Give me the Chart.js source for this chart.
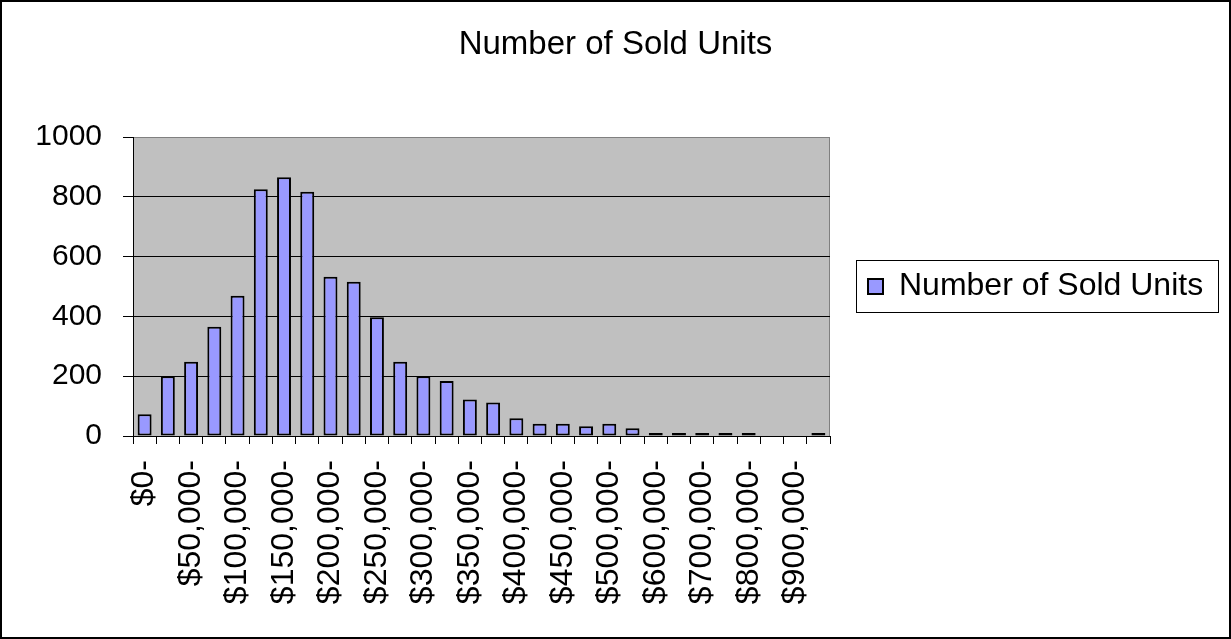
<!DOCTYPE html>
<html>
<head>
<meta charset="utf-8">
<script src="https://cdn.jsdelivr.net/npm/chart.js@4.4.1/dist/chart.umd.min.js"></script>
<style>
  html, body { margin: 0; padding: 0; background: #fff; }
  canvas { display: block; }
</style>
</head>
<body>
<canvas id="grafico" width="1231" height="639"></canvas>
<script>
const titulo = "Number of Sold Units";

const categorias = [
  "$0-", "$25,000-", "$50,000-", "$75,000-", "$100,000-", "$125,000-",
  "$150,000-", "$175,000-", "$200,000-", "$225,000-", "$250,000-", "$275,000-",
  "$300,000-", "$325,000-", "$350,000-", "$375,000-", "$400,000-", "$425,000-",
  "$450,000-", "$475,000-", "$500,000-", "$550,000-", "$600,000-", "$650,000-",
  "$700,000-", "$750,000-", "$800,000-", "$850,000-", "$900,000-", "$950,000-"
];

const unidades = [
  73, 200, 248, 365, 469, 825, 865, 817, 533, 516,
  397, 248, 200, 184, 122, 112, 59, 41, 41, 33,
  41, 26, 10, 10, 10, 10, 10, 0, 0, 10
];

const ticksY = [0, 200, 400, 600, 800, 1000];

const fuente = "'Liberation Sans', Arial, sans-serif";

// white page with the black outer frame, grey plot area
const fondo = {
  id: 'fondo',
  beforeDraw(chart) {
    const {ctx, chartArea: a, width, height} = chart;
    ctx.save();
    ctx.fillStyle = '#ffffff';
    ctx.fillRect(0, 0, width, height);
    ctx.strokeStyle = '#000000';
    ctx.lineWidth = 2;
    ctx.strokeRect(1, 1, width - 2, height - 2);
    ctx.fillStyle = '#c0c0c0';
    ctx.fillRect(a.left, a.top, a.right - a.left, a.bottom - a.top);
    ctx.strokeStyle = '#808080';
    ctx.lineWidth = 1;
    ctx.beginPath();
    ctx.moveTo(a.left, a.top + 0.5);
    ctx.lineTo(a.right - 0.5, a.top + 0.5);
    ctx.lineTo(a.right - 0.5, a.bottom);
    ctx.stroke();
    ctx.restore();
  }
};

// the legend sits in a fixed-width column right of the plot
const anchoLeyenda = {
  id: 'anchoLeyenda',
  beforeLayout(chart) {
    const lg = chart.legend;
    if (lg && !lg._anchoFijo) {
      const fitOriginal = lg.fit;
      lg.fit = function () {
        fitOriginal.call(this);
        this.width = 401;
      };
      lg._anchoFijo = true;
    }
  }
};

// box around the legend
const marcoLeyenda = {
  id: 'marcoLeyenda',
  afterDraw(chart) {
    const hb = chart.legend && chart.legend.legendHitBoxes && chart.legend.legendHitBoxes[0];
    if (!hb) return;
    const {ctx} = chart;
    ctx.save();
    ctx.strokeStyle = '#000000';
    ctx.lineWidth = 1;
    const x0 = Math.round(hb.left - 12) + 0.5;
    const x1 = Math.round(hb.left + hb.width + 15) + 0.5;
    const y0 = Math.round(hb.top - 11) + 0.5;
    const y1 = Math.round(hb.top + hb.height + 9) + 0.5;
    ctx.strokeRect(x0, y0, x1 - x0, y1 - y0);
    ctx.restore();
  }
};

const data = {
  labels: categorias,
  datasets: [
    {
      label: titulo,
      data: unidades,
      backgroundColor: '#9999ff',
      borderColor: '#000000',
      borderWidth: 2,
      borderSkipped: false,
      barPercentage: 0.6,
      categoryPercentage: 1.0,
    },
  ],
};

const config = {
  type: 'bar',
  data: data,
  options: {
    responsive: false,
    animation: false,
    layout: {
      padding: 0
    },
    plugins: {
      title: {
        display: true,
        text: titulo,
        color: '#000000',
        font: {family: fuente, size: 33, weight: 'normal'},
        padding: {top: 25, bottom: 72.4}
      },
      legend: {
        position: 'right',
        fullSize: false,
        align: 'center',
        labels: {
          color: '#000000',
          font: {family: fuente, size: 32},
          boxWidth: 15,
          boxHeight: 15,
          padding: 38
        }
      },
      tooltip: {enabled: false}
    },
    scales: {
      x: {
        offset: true,
        grid: {
          offset: true,
          drawOnChartArea: false,
          drawTicks: true,
          tickLength: 8,
          tickColor: '#000000'
        },
        border: {display: true, color: '#000000', width: 1},
        ticks: {
          autoSkip: false,
          minRotation: 90,
          maxRotation: 90,
          padding: 16,
          color: '#000000',
          font: {family: fuente, size: 32},
          callback: (v, i) => (i % 2 === 0 ? categorias[i] : '')
        },
        afterFit: (scale) => { scale.height = 203; }
      },
      y: {
        min: 0,
        max: 1000,
        afterBuildTicks: (scale) => { scale.ticks = ticksY.map(v => ({value: v})); },
        grid: {
          color: (ctx) => (ctx.tick && ctx.tick.value === 1000 ? '#808080' : '#000000'),
          tickColor: '#000000',
          tickLength: 10,
          lineWidth: 1
        },
        border: {display: true, color: '#000000', width: 1},
        ticks: {
          padding: 21,
          color: '#000000',
          font: {family: fuente, size: 30},
          callback: (v) => String(v)
        },
        afterFit: (scale) => { scale.width = 133; }
      }
    }
  },
  plugins: [fondo, anchoLeyenda, marcoLeyenda]
};

const myChart = new Chart(document.getElementById('grafico'), config);
</script>
</body>
</html>
